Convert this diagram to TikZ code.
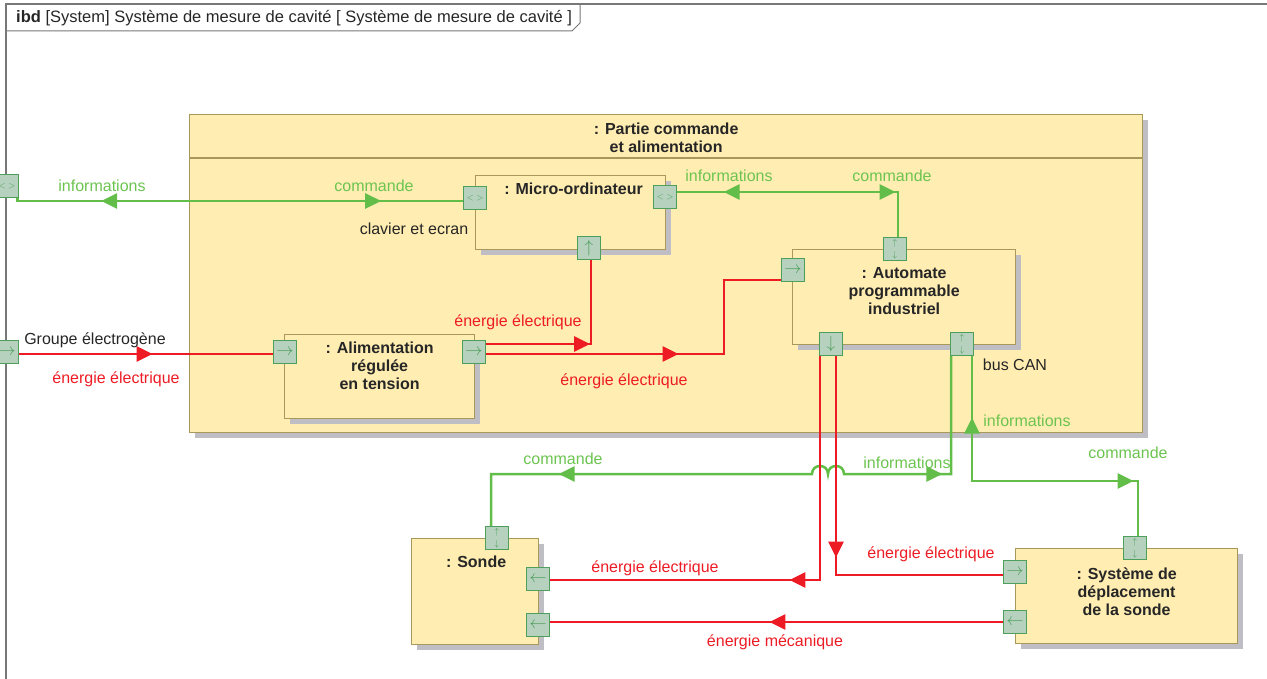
\documentclass[tikz,border=0pt]{standalone}
\usepackage{fontspec}
\setmainfont{Liberation Sans}
\usetikzlibrary{positioning,shadows,arrows.meta,decorations.markings}

\definecolor{boxfill}{RGB}{255,237,178}
\definecolor{boxline}{RGB}{168,152,92}
\definecolor{shadowgray}{RGB}{190,190,196}
\definecolor{portfill}{RGB}{182,210,190}
\definecolor{portline}{RGB}{78,158,92}
\definecolor{infogreen}{RGB}{98,190,72}
\definecolor{infotext}{RGB}{108,196,80}
\definecolor{powerred}{RGB}{237,28,36}
\definecolor{framegray}{RGB}{120,120,120}

% port glyphs
\newcommand{\gRight}{$\rightarrow$}
\newcommand{\gLeft}{$\leftarrow$}
\newcommand{\gUp}{$\uparrow$}
\newcommand{\gDown}{$\downarrow$}
\newcommand{\gBoth}{$\scriptscriptstyle<\;>$}
\newcommand{\gUpDown}{\shortstack{$\scriptscriptstyle\uparrow$\\[1pt]$\scriptscriptstyle\downarrow$}}

\tikzset{
  block/.style={draw=boxline, fill=boxfill, line width=1.2pt, inner sep=0pt, anchor=north west,
    drop shadow={shadow xshift=5pt, shadow yshift=-5pt, fill=shadowgray, opacity=1}},
  title/.style={font=\bfseries\fontsize{16}{18}\selectfont, align=center, text=black!85, inner sep=0pt},
  port/.style={draw=portline, fill=portfill, line width=1.2pt, minimum size=23pt, inner sep=0pt,
    text=portline, font=\fontsize{18}{18}\selectfont},
  wire/.style={line width=2.5pt},
  infowire/.style={wire, draw=infogreen},
  powerwire/.style={wire, draw=powerred},
  fwd/.style={postaction={decorate, decoration={markings,
    mark=at position #1 with {\arrow{Triangle[length=16pt,width=15pt]}}}}},
  bwd/.style={postaction={decorate, decoration={markings,
    mark=at position #1 with {\arrowreversed{Triangle[length=16pt,width=15pt]}}}}},
  lbl/.style={font=\fontsize{16}{18}\selectfont, inner sep=0pt, text=black!85},
  infolbl/.style={lbl, text=infotext},
  powerlbl/.style={lbl, text=powerred},
}

\begin{document}
\begin{tikzpicture}[x=1pt, y=-1pt]
  \useasboundingbox (0,0) rectangle (1267,679);

  % frame
  \draw[framegray, line width=1.2pt] (6,679) -- (6,4) -- (1267,4);
  \draw[framegray, line width=1pt] (6,31) -- (572,31) -- (580,23) -- (580,4);
  \node[anchor=west, font=\fontsize{16.5}{18}\selectfont, text=black!85, inner sep=0pt] (hdr) at (16,18)
    {\textbf{ibd} [System] Système de mesure de cavité [ Système de mesure de cavité ]};

  % blocks
  \node[block, minimum width=953pt, minimum height=318pt] (partie) at (189,114) {};
  \draw[boxline, line width=1.2pt] ([yshift=-44pt]partie.north west) -- ([yshift=-44pt]partie.north east);
  \node[title, below=9pt of partie.north] {: Partie commande\\et alimentation};

  \node[block, minimum width=190pt, minimum height=74pt] (micro) at (475,175) {};
  \node[title, below=8pt of micro.north, xshift=3pt] {: Micro-ordinateur};

  \node[block, minimum width=223pt, minimum height=95pt] (aut) at (792,249) {};
  \node[title, below=18pt of aut.north] {: Automate\\programmable\\industriel};

  \node[block, minimum width=190pt, minimum height=84pt] (alim) at (284,334) {};
  \node[title, below=8pt of alim.north] {: Alimentation\\régulée\\en tension};

  \node[block, minimum width=127pt, minimum height=106pt] (sonde) at (411,538) {};
  \node[title, below=18pt of sonde.north, xshift=1pt] {: Sonde};

  \node[block, minimum width=222pt, minimum height=95pt] (sys) at (1015,548) {};
  \node[title, below=20pt of sys.north] {: Système de\\déplacement\\de la sonde};

  % ports
  \node[port] (fpInfo)   at (7,186)    {\gBoth};
  \node[port] (fpPower)  at (7,352)    {\gRight};
  \node[port] (pMicroW)  at (475,198)  {\gBoth};
  \node[port] (pMicroE)  at (665,197)  {\gBoth};
  \node[port] (pMicroS)  at (589,248)  {\gUp};
  \node[port] (pAutN)    at (895,249)  {\gUpDown};
  \node[port] (pAutW)    at (793,270)  {\gRight};
  \node[port] (pAutS)    at (831,344)  {\gDown};
  \node[port] (pCan)     at (962,344)  {\gUpDown};
  \node[port] (pAlimW)   at (285,352)  {\gRight};
  \node[port] (pAlimE)   at (474,352)  {\gRight};
  \node[port] (pSondeN)  at (497,538)  {\gUpDown};
  \node[port] (pSondeE1) at (538,579)  {\gLeft};
  \node[port] (pSondeE2) at (538,625)  {\gLeft};
  \node[port] (pSysN)    at (1135,548) {\gUpDown};
  \node[port] (pSysW1)   at (1015,572) {\gRight};
  \node[port] (pSysW2)   at (1015,622) {\gLeft};

  % information flows
  \draw[infowire, bwd=86.5pt, fwd=366.5pt]
    ([xshift=-1.5pt]fpInfo.south east) |- ([yshift=-3pt]pMicroW.west);
  \draw[infowire, bwd=46.5pt, fwd=218.5pt]
    ([yshift=5pt]pMicroE.east) -| ([xshift=3pt]pAutN.north);
  \draw[infowire, bwd=126.5pt, fwd=-119.5pt]
    ([xshift=-11pt]pCan.south) |- (844,474)
    .. controls (844,463.3) and (828,463.3) .. (828,474)
    .. controls (828,463.3) and (812,463.3) .. (812,474)
    -| ([xshift=-6pt]pSondeN.north);
  \draw[infowire, bwd=61.5pt, fwd=286.5pt]
    ([xshift=10pt]pCan.south) -- (972,481) -| ([xshift=3pt]pSysN.north);

  % energy flows
  \draw[powerwire, fwd=133.5pt] ([yshift=-2pt]fpPower.east) -- ([yshift=-2pt]pAlimW.west);
  \draw[powerwire, fwd=104pt] ([yshift=8pt]pAlimE.east) -| ([xshift=2pt]pMicroS.south);
  \draw[powerwire, fwd=192.5pt] ([yshift=-2pt]pAlimE.east) -- (724,354) |- ([yshift=-10pt]pAutW.west);
  \draw[powerwire, fwd=254.5pt] ([xshift=-11pt]pAutS.south) |- ([yshift=-1pt]pSondeE1.east);
  \draw[powerwire, fwd=201.5pt] ([xshift=5pt]pAutS.south) |- ([yshift=-3pt]pSysW1.west);
  \draw[powerwire, fwd=233.5pt] (pSysW2.west) -- (pSondeE2.east |- pSysW2.west);

  % labels
  \node[infolbl] at (102,186) {informations};
  \node[infolbl] at (374,186) {commande};
  \node[lbl] at (414,229) {clavier et ecran};
  \node[infolbl] at (729,176) {informations};
  \node[infolbl] at (892,176) {commande};
  \node[lbl] at (95,340) {Groupe électrogène};
  \node[powerlbl] at (116,379) {énergie électrique};
  \node[powerlbl] at (518,322) {énergie électrique};
  \node[powerlbl] at (624,381) {énergie électrique};
  \node[lbl] at (1015,365) {bus CAN};
  \node[infolbl] at (1027,421) {informations};
  \node[infolbl] at (563,459) {commande};
  \node[infolbl] at (907,463) {informations};
  \node[infolbl] at (1128,453) {commande};
  \node[powerlbl] at (655,568) {énergie électrique};
  \node[powerlbl] at (931,554) {énergie électrique};
  \node[powerlbl] at (775,642) {énergie mécanique};
\end{tikzpicture}
\end{document}
